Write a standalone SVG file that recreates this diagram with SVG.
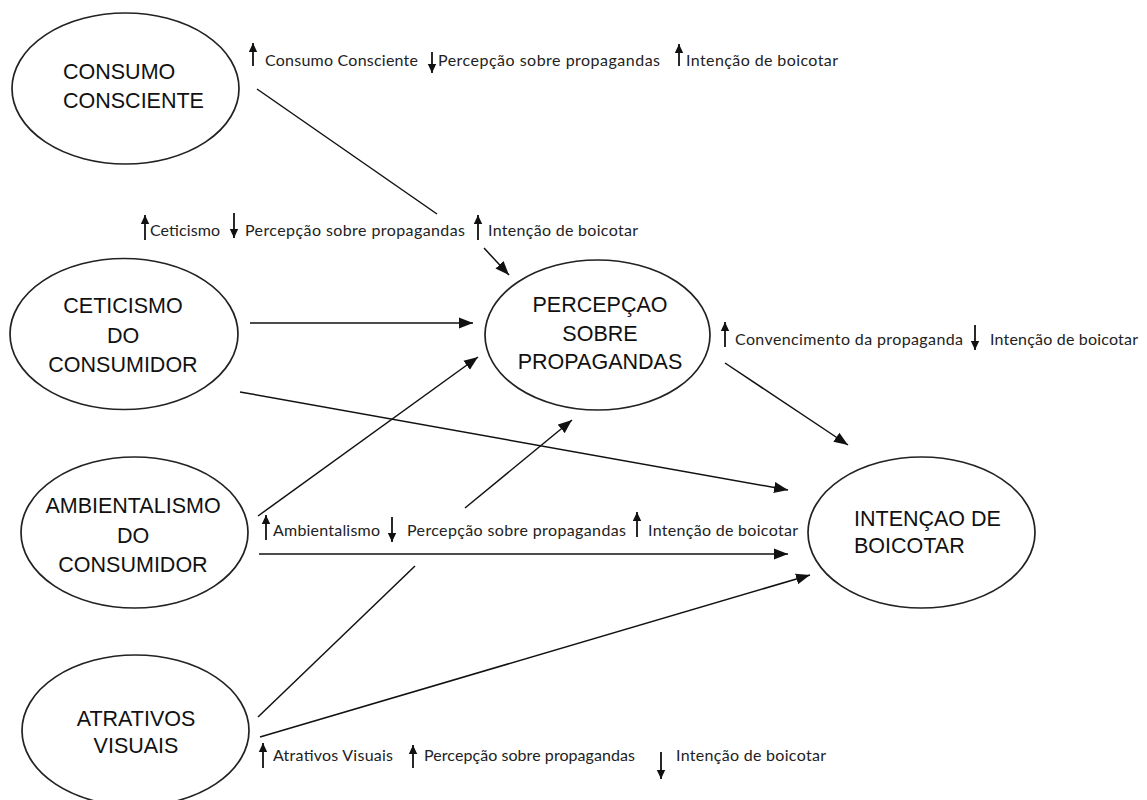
<svg xmlns="http://www.w3.org/2000/svg" width="1147" height="800" viewBox="0 0 1147 800">
<defs>
<marker id="ah" markerUnits="userSpaceOnUse" markerWidth="15" markerHeight="12" refX="14" refY="6" orient="auto"><path d="M0,0.5 L14,6 L0,11.5 z" fill="#111"/></marker>
<marker id="sh" markerUnits="userSpaceOnUse" markerWidth="10" markerHeight="10" refX="9" refY="5" orient="auto"><path d="M0,0.8 L9,5 L0,9.2 z" fill="#111"/></marker>
</defs>
<style>
.node ellipse{fill:#fff;stroke:#222;stroke-width:1.7}
.nt{font-family:"Liberation Sans",Arial,sans-serif;font-size:21.5px;fill:#111}
.c{text-anchor:middle}
.edge{stroke:#111;stroke-width:1.5;fill:none}
.arr{marker-end:url(#ah)}
.lbl{font-family:Lato,"Open Sans",sans-serif;font-size:16px;fill:#222}
.sa{stroke:#111;stroke-width:1.8;marker-end:url(#sh)}
</style>
<rect width="1147" height="800" fill="#fff"/>

<g id="consumo-consciente" class="node">
<ellipse cx="125.5" cy="88.5" rx="113.5" ry="75.5"/>
<text class="nt" x="63" y="79">CONSUMO</text>
<text class="nt" x="63" y="108">CONSCIENTE</text>
</g>
<g id="ceticismo" class="node">
<ellipse cx="124" cy="334" rx="114" ry="75.5"/>
<text class="nt c" x="123" y="313">CETICISMO</text>
<text class="nt c" x="123" y="343">DO</text>
<text class="nt c" x="123" y="372">CONSUMIDOR</text>
</g>
<g id="ambientalismo" class="node">
<ellipse cx="134.5" cy="532.5" rx="113.5" ry="75.5"/>
<text class="nt c" x="133" y="513">AMBIENTALISMO</text>
<text class="nt c" x="133" y="543">DO</text>
<text class="nt c" x="133" y="572">CONSUMIDOR</text>
</g>
<g id="atrativos" class="node">
<ellipse cx="135.5" cy="730.5" rx="113.5" ry="75.5"/>
<text class="nt c" x="136" y="726">ATRATIVOS</text>
<text class="nt c" x="136" y="753">VISUAIS</text>
</g>
<g id="percepcao" class="node">
<ellipse cx="597.5" cy="335" rx="112.5" ry="75"/>
<text class="nt c" x="600" y="312">PERCEPÇAO</text>
<text class="nt c" x="600" y="341">SOBRE</text>
<text class="nt c" x="600" y="369">PROPAGANDAS</text>
</g>
<g id="intencao" class="node">
<ellipse cx="921.5" cy="532.5" rx="113.5" ry="75.5"/>
<text class="nt" x="854" y="526">INTENÇAO DE</text>
<text class="nt" x="854" y="553">BOICOTAR</text>
</g>

<g id="connectors">
<line class="edge" x1="257" y1="89" x2="437" y2="214"/>
<line class="edge arr" x1="484" y1="248" x2="509" y2="275"/>
<line class="edge arr" x1="250" y1="323" x2="473" y2="323"/>
<line class="edge arr" x1="240" y1="392" x2="788" y2="490"/>
<line class="edge arr" x1="258" y1="516" x2="478" y2="357"/>
<line class="edge" x1="258" y1="717" x2="415" y2="566"/>
<line class="edge arr" x1="465" y1="508" x2="572" y2="420"/>
<line class="edge arr" x1="259" y1="554" x2="788" y2="554"/>
<line class="edge arr" x1="260" y1="737" x2="810" y2="575"/>
<line class="edge arr" x1="725" y1="363" x2="848" y2="445"/>
</g>

<g id="label-consumo">
<line class="sa" x1="253" y1="66" x2="253" y2="43"/>
<text class="lbl" x="265" y="66" textLength="153" lengthAdjust="spacing">Consumo Consciente</text>
<line class="sa" x1="432" y1="52" x2="432" y2="73"/>
<text class="lbl" x="438" y="66" textLength="222" lengthAdjust="spacing">Percepção sobre propagandas</text>
<line class="sa" x1="679" y1="66" x2="679" y2="44"/>
<text class="lbl" x="686" y="66" textLength="152" lengthAdjust="spacing">Intenção de boicotar</text>
</g>
<g id="label-ceticismo">
<line class="sa" x1="145" y1="240" x2="145" y2="215"/>
<text class="lbl" x="150" y="236" textLength="70" lengthAdjust="spacing">Ceticismo</text>
<line class="sa" x1="234" y1="213" x2="234" y2="238"/>
<text class="lbl" x="245" y="236" textLength="220" lengthAdjust="spacing">Percepção sobre propagandas</text>
<line class="sa" x1="478" y1="240" x2="478" y2="215"/>
<text class="lbl" x="488" y="236" textLength="150" lengthAdjust="spacing">Intenção de boicotar</text>
</g>
<g id="label-convencimento">
<line class="sa" x1="725" y1="347" x2="725" y2="322"/>
<text class="lbl" x="735" y="345" textLength="228" lengthAdjust="spacing">Convencimento da propaganda</text>
<line class="sa" x1="975" y1="325" x2="975" y2="350"/>
<text class="lbl" x="990" y="345" textLength="148" lengthAdjust="spacing">Intenção de boicotar</text>
</g>
<g id="label-ambientalismo">
<line class="sa" x1="266" y1="540" x2="266" y2="515"/>
<text class="lbl" x="273" y="536" textLength="107" lengthAdjust="spacing">Ambientalismo</text>
<line class="sa" x1="392" y1="517" x2="392" y2="542"/>
<text class="lbl" x="407" y="536" textLength="219" lengthAdjust="spacing">Percepção sobre propagandas</text>
<line class="sa" x1="637" y1="537" x2="637" y2="512"/>
<text class="lbl" x="648" y="536" textLength="150" lengthAdjust="spacing">Intenção de boicotar</text>
</g>
<g id="label-atrativos">
<line class="sa" x1="263" y1="768" x2="263" y2="743"/>
<text class="lbl" x="273" y="761" textLength="120" lengthAdjust="spacing">Atrativos Visuais</text>
<line class="sa" x1="413" y1="768" x2="413" y2="745"/>
<text class="lbl" x="424" y="761" textLength="211" lengthAdjust="spacing">Percepção sobre propagandas</text>
<line class="sa" x1="661" y1="752" x2="661" y2="779"/>
<text class="lbl" x="676" y="761" textLength="150" lengthAdjust="spacing">Intenção de boicotar</text>
</g>
</svg>
